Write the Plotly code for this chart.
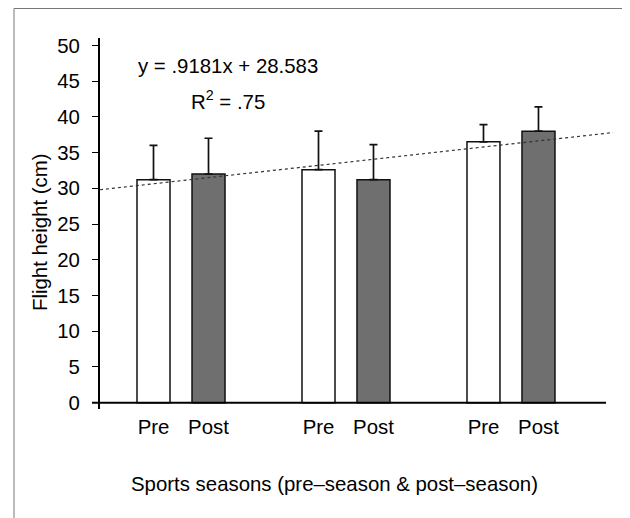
import plotly.graph_objects as go

# ---- data ----
pre_pos = [0, 3, 6]
post_pos = [1, 4, 7]
pre_labels = ["Pre", "Pre", "Pre"]
post_labels = ["Post", "Post", "Post"]
pre_vals = [31.2, 32.6, 36.5]
post_vals = [32.0, 31.2, 38.0]
pre_err = [4.8, 5.4, 2.4]
post_err = [5.0, 4.9, 3.4]
trend_x = [-0.973, 8.355]
trend_y = [29.8, 37.8]
y_ticks = [0, 5, 10, 15, 20, 25, 30, 35, 40, 45, 50]

# page has an 8px body margin -> figure is drawn at (8, 8)
OFF = 8
W, H = 622, 510
L, R, T, B = 92, 17, 30, 109
xmin, xmax = -0.973, 8.355
ymin, ymax = -0.88, 51.03
FONT = "Liberation Sans, Arial, Helvetica, sans-serif"
FS = 20.4

fig = go.Figure()
fig.add_trace(go.Bar(
    x=pre_pos, y=pre_vals, width=0.6,
    marker=dict(color="white", line=dict(color="#111111", width=1.5)),
    error_y=dict(type="data", symmetric=False, array=pre_err,
                 arrayminus=[0] * len(pre_err), color="#111111",
                 thickness=1.7, width=4),
    showlegend=False,
))
fig.add_trace(go.Bar(
    x=post_pos, y=post_vals, width=0.6,
    marker=dict(color="#6f6f6f", line=dict(color="#111111", width=1.5)),
    error_y=dict(type="data", symmetric=False, array=post_err,
                 arrayminus=[0] * len(post_err), color="#111111",
                 thickness=1.7, width=4),
    showlegend=False,
))
fig.add_trace(go.Scatter(
    x=trend_x, y=trend_y, mode="lines",
    line=dict(color="#333333", width=1.2, dash="dot"),
    showlegend=False, cliponaxis=False,
))

pw = W - L - R
ph = H - T - B
def px_x(p):  # page pixel -> paper x
    return (p - OFF - L) / pw
def px_y(p):  # page pixel -> paper y
    return (H - B - (p - OFF)) / ph

y0_paper = (0 - ymin) / (ymax - ymin)
FRAME = "#777777"

shapes = [
    dict(type="line", xref="paper", yref="paper", x0=px_x(92), x1=px_x(606),
         y0=y0_paper, y1=y0_paper, line=dict(color="black", width=2)),
    dict(type="line", xref="paper", yref="paper", x0=px_x(14), x1=px_x(14),
         y0=px_y(8.5), y1=px_y(530), line=dict(color=FRAME, width=1)),
    dict(type="line", xref="paper", yref="paper", x0=px_x(14), x1=px_x(628),
         y0=px_y(8.5), y1=px_y(8.5), line=dict(color=FRAME, width=1)),
    dict(type="line", xref="paper", yref="paper", x0=px_x(628), x1=px_x(628),
         y0=px_y(8.5), y1=px_y(530), line=dict(color=FRAME, width=1)),
]

def ann(text, x, y, angle=0):
    return dict(text=text, xref="paper", yref="paper", x=px_x(x), y=px_y(y),
                xanchor="center", yanchor="middle", showarrow=False,
                textangle=angle, font=dict(size=FS, color="black", family=FONT))

annotations = [
    ann("y = .9181x + 28.583", 228, 66),
    ann("R<sup>2</sup> = .75", 228, 100),
    ann("Flight height (cm)", 40, 232, -90),
    ann("Sports seasons (pre\u2013season & post\u2013season)", 334, 484),
]

fig.update_layout(
    width=W, height=H,
    margin=dict(l=L, r=R, t=T, b=B, pad=0),
    paper_bgcolor="white", plot_bgcolor="white",
    font=dict(family=FONT, size=FS, color="black"),
    shapes=shapes, annotations=annotations,
    barmode="overlay",
    xaxis=dict(range=[xmin, xmax], tickvals=pre_pos + post_pos,
               ticktext=pre_labels + post_labels,
               showgrid=False, zeroline=False, showline=False,
               ticks="", ticklabelstandoff=4,
               tickfont=dict(size=FS, family=FONT, color="black")),
    yaxis=dict(range=[ymin, ymax], tickvals=y_ticks,
               showgrid=False, zeroline=False, showline=True,
               linecolor="black", linewidth=2,
               ticks="outside", ticklen=6, tickwidth=1, tickcolor="black",
               ticklabelstandoff=8,
               tickfont=dict(size=FS, family=FONT, color="black")),
)

fig.write_html("out.html")
